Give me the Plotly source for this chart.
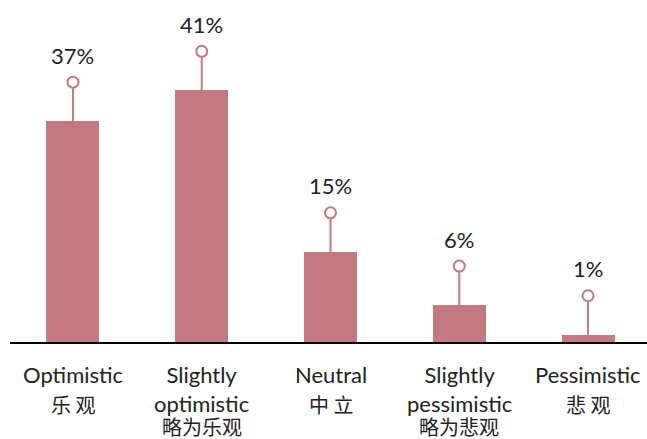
import plotly.graph_objects as go

categories = ["Optimistic", "Slightly optimistic", "Neutral", "Slightly pessimistic", "Pessimistic"]
en_labels = ["Optimistic", "Slightly<br>optimistic", "Neutral", "Slightly<br>pessimistic", "Pessimistic"]
zh_labels = ["乐 观", "略为乐观", "中 立", "略为悲观", "悲 观"]
values = [36.5, 41.6, 14.9, 6.1, 1.2]
value_labels = ["37%", "41%", "15%", "6%", "1%"]

BAR_COLOR = "#C47880"
TEXT_COLOR = "#222222"
FONT = "Lato, 'Noto Sans CJK SC', sans-serif"
CJK_FONT = "'Noto Sans CJK SC', sans-serif"

W, H = 647, 439
ML, MR, MT, MB = 10, 0, 0, 97
plot_h = H - MT - MB
px_per_unit = 6.05
ymax = plot_h / px_per_unit

xs = list(range(len(categories)))

fig = go.Figure()
fig.add_trace(go.Bar(
    x=xs, y=values, width=0.412,
    marker=dict(color=BAR_COLOR, line=dict(width=0)),
    hoverinfo="skip", showlegend=False,
))

shapes = []
annotations = []
for i, v in enumerate(values):
    shapes.append(dict(type="line", xref="x", yref="y", xsizemode="pixel", ysizemode="pixel",
                       xanchor=i, yanchor=v, x0=0, x1=0, y0=0, y1=33,
                       line=dict(color=BAR_COLOR, width=2)))
    shapes.append(dict(type="circle", xref="x", yref="y", xsizemode="pixel", ysizemode="pixel",
                       xanchor=i, yanchor=v, x0=-5.5, x1=5.5, y0=33.5, y1=44.5,
                       fillcolor="white", line=dict(color=BAR_COLOR, width=2)))
    annotations.append(dict(x=i, y=v, xref="x", yref="y", text=value_labels[i],
                            showarrow=False, yanchor="middle", yshift=66,
                            font=dict(family=FONT, size=22, color=TEXT_COLOR)))
    nlines = en_labels[i].count("<br>") + 1
    annotations.append(dict(x=i, y=0, xref="x", yref="paper", text=en_labels[i],
                            showarrow=False, yanchor="top", yshift=-17,
                            font=dict(family=FONT, size=22, color=TEXT_COLOR)))
    zh_center = 404 if nlines == 1 else 426
    annotations.append(dict(x=i, y=0, xref="x", yref="paper", text=zh_labels[i],
                            showarrow=False, yanchor="middle", yshift=-(zh_center - (H - MB)),
                            font=dict(family=CJK_FONT, size=20, color=TEXT_COLOR)))

fig.update_layout(
    width=W, height=H,
    margin=dict(l=ML, r=MR, t=MT, b=MB),
    paper_bgcolor="white", plot_bgcolor="white",
    shapes=shapes, annotations=annotations,
    xaxis=dict(range=[-0.489, 4.458], showticklabels=False, ticks="", showgrid=False,
               zeroline=False, showline=True, linecolor="black", linewidth=2, fixedrange=True),
    yaxis=dict(range=[0, ymax], visible=False, fixedrange=True),
    bargap=0,
)

fig.write_html("out.html", config={"displayModeBar": False})
